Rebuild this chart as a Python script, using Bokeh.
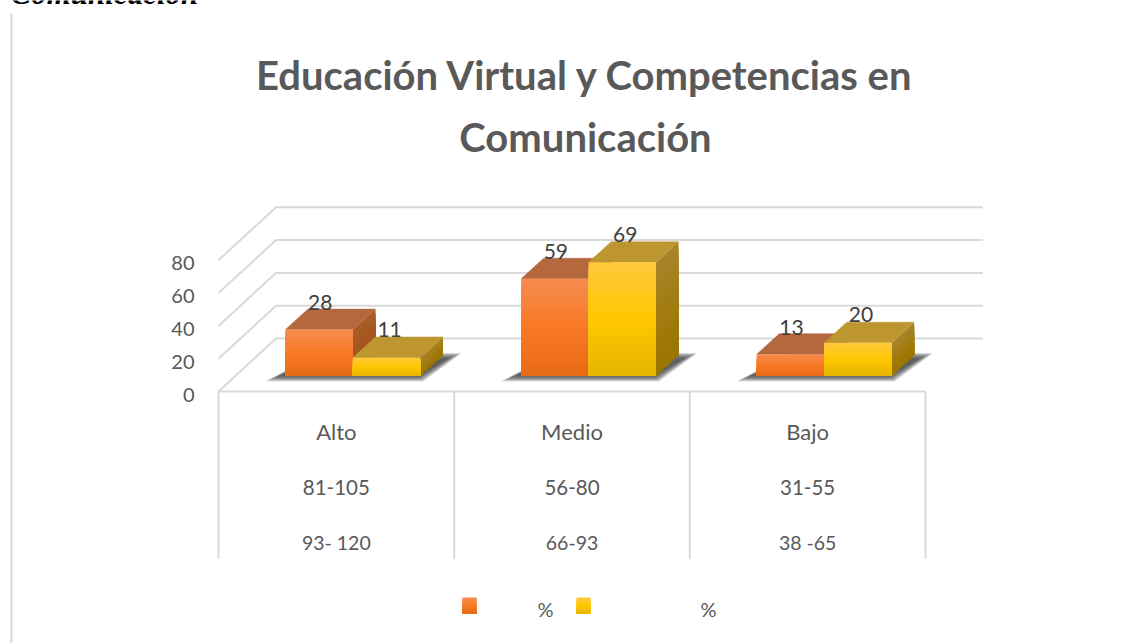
from bokeh.plotting import figure
from bokeh.models import Range1d, LinearAxis, FixedTicker
from bokeh.embed import file_html
from bokeh.resources import INLINE
from bokeh.core.properties import value

categories = ["Alto", "Medio", "Bajo"]
row2 = ["81-105", "56-80", "31-55"]
row3 = ["93- 120", "66-93", "38 -65"]
series_a = [28, 59, 13]
series_b = [11, 69, 20]
y_ticks = [0, 20, 40, 60, 80]
title_lines = ["Educación Virtual y Competencias en", "Comunicación"]
clipped_heading = "Comunicación"

W, H = 1142, 643
PX_CAT = 235.67      # pixels per category
PX_VAL = 1.64        # pixels per value unit
X0, Y0 = 218.0, 391.0  # pixel of category 0 / value 0 on the front edge


def ux(px):
    return (px - X0) / PX_CAT


def uy(py):
    return (Y0 - py) / PX_VAL


def dx(px):
    return px / PX_CAT


def dy(px):
    return px / PX_VAL


def mix(c1, c2, t):
    a = [int(c1[i:i + 2], 16) for i in (1, 3, 5)]
    b = [int(c2[i:i + 2], 16) for i in (1, 3, 5)]
    return "#%02x%02x%02x" % tuple(round(a[i] + (b[i] - a[i]) * t) for i in range(3))


def ramp(stops, t):
    if t < 0.5:
        return mix(stops[0], stops[1], t * 2)
    return mix(stops[1], stops[2], (t - 0.5) * 2)


p = figure(width=W, height=H, output_backend="svg", toolbar_location=None,
           x_range=Range1d(ux(0), ux(W)), y_range=Range1d(uy(H), uy(0)),
           min_border=0, outline_line_color=None, background_fill_color="white",
           border_fill_color="white", x_axis_location=None, y_axis_location=None,
           margin=(0, 0, 0, 0))
p.xgrid.visible = False
p.ygrid.visible = False

GRID = "#d9d9d9"
TXT = "#595959"
FONT = value("Lato")

# page rule at the left
p.segment([ux(11)], [uy(13)], [ux(11)], [uy(H)], line_color=GRID, line_width=2)

# cut heading at the very top
p.text([ux(10)], [uy(10)], text=[clipped_heading], text_font=value("Liberation Serif"),
       text_font_style="bold italic", text_font_size="31px", text_color="#000000",
       text_baseline="bottom", text_align="left")

# chart title
p.text([ux(585)] * 2, [uy(74), uy(136)], text=title_lines, text_font=FONT,
       text_font_style="bold", text_font_size="40px", text_color=TXT,
       text_baseline="middle", text_align="center")

# walls
DEPTH_X, DEPTH_Y = dx(57.5), dy(53)
x_front_end = len(categories)
for v in y_ticks:
    p.line([0, DEPTH_X, x_front_end + DEPTH_X], [v, v + DEPTH_Y, v + DEPTH_Y],
           line_color=GRID, line_width=2)
p.segment([0], [0], [x_front_end], [0], line_color=GRID, line_width=2)
table_bottom = uy(558)
p.segment(list(range(len(categories) + 1)), [0] * 4,
          list(range(len(categories) + 1)), [table_bottom] * 4,
          line_color=GRID, line_width=2)

# y axis, on a range nudged so the labels sit just under their grid lines
LABEL_NUDGE = dy(3)
p.extra_y_ranges["labels"] = Range1d(uy(H) + LABEL_NUDGE, uy(0) + LABEL_NUDGE)
ax = LinearAxis(fixed_location=ux(200), y_range_name="labels",
                ticker=FixedTicker(ticks=y_ticks),
                axis_line_color=None, major_tick_line_color=None,
                minor_tick_line_color=None, major_label_text_font="Lato",
                major_label_text_font_size="20px", major_label_text_color=TXT,
                major_label_standoff=0)
p.add_layout(ax, "left")

# category table
centers = [i + 0.5 for i in range(len(categories))]
for labels, py, size in ((categories, 431, "22px"), (row2, 487, "20.5px"), (row3, 542, "19.5px")):
    p.text(centers, [uy(py)] * 3, text=labels, text_font=FONT, text_font_size=size,
           text_color=TXT, text_align="center", text_baseline="middle")

# bars
BAR_W = dx(67.4)
BAR_DX, BAR_DY = dx(22.5), dy(20.5)
BASE = dy(16)

ORANGE = dict(front=["#f58b50", "#f97a26", "#e76a17"], top="#b5673d",
              side=["#aa5e28", "#a5561e", "#9a4f18"])
YELLOW = dict(front=["#ffc83f", "#ffc800", "#e6b400"], top="#be9630",
              side=["#a9852b", "#a27c10", "#9a7500"])
N = 24


def shadow(x0):
    xr = x0 + 2 * BAR_W
    for k in range(9):
        ins = k * 1.7
        xs = [x0 - dx(20 - ins), xr + dx(3 - ins * .4),
              xr + BAR_DX + dx(19 - ins), x0 + BAR_DX + dx(10)]
        ys = [BASE - dy(6 - ins * .42), BASE - dy(6 - ins * .42),
              BASE + BAR_DY + dy(2 - ins * .4), BASE + BAR_DY + dy(2 - ins * .4)]
        p.patch(xs, ys, fill_color="#3a3a3a", fill_alpha=0.17, line_color=None)


def bar3d(x0, val, style):
    x1 = x0 + BAR_W
    ytop = BASE + val
    # painted from the tallest band down, so that no seam shows between the bands
    xs, ys, cs = [], [], []
    for i in range(N, 0, -1):
        b = BASE + val * i / N
        xs.append([x1, x1 + BAR_DX, x1 + BAR_DX, x1])
        ys.append([BASE, BASE + BAR_DY, b + BAR_DY, b])
        cs.append(ramp(style["side"], 1 - (i - .5) / N))
    p.patches(xs, ys, fill_color=cs, line_color=None)
    # top
    p.patch([x0, x1, x1 + BAR_DX, x0 + BAR_DX], [ytop, ytop, ytop + BAR_DY, ytop + BAR_DY],
            fill_color=style["top"], line_color=style["top"], line_width=0.5)
    # front
    tops = [BASE + val * i / N for i in range(N, 0, -1)]
    cs = [ramp(style["front"], 1 - (i - .5) / N) for i in range(N, 0, -1)]
    p.quad(left=[x0] * N, right=[x1] * N, bottom=[BASE] * N, top=tops, fill_color=cs,
           line_color=None)


for i in range(len(categories)):
    x0 = i + dx(285 - 218)
    shadow(x0)
    bar3d(x0, series_a[i], ORANGE)
    bar3d(x0 + BAR_W, series_b[i], YELLOW)

# data labels
for i in range(len(categories)):
    x0 = i + dx(285 - 218)
    p.text([x0 + BAR_W / 2 + dx(1), x0 + 1.5 * BAR_W + dx(3)],
           [BASE + series_a[i] + dy(27), BASE + series_b[i] + dy(28)],
           text=[str(series_a[i]), str(series_b[i])], text_font=FONT, text_font_size="21px",
           text_color="#404040", text_align="center", text_baseline="middle")

# legend
for sx, style in ((462, ORANGE), (576, YELLOW)):
    n = 10
    top_y, bot_y = uy(597), uy(613)
    tops = [bot_y + (top_y - bot_y) * i / n for i in range(n, 0, -1)]
    cs = [ramp(style["front"], 1 - (i - .5) / n) for i in range(n, 0, -1)]
    p.quad(left=[ux(sx)] * n, right=[ux(sx + 14)] * n, bottom=[bot_y] * n, top=tops,
           fill_color=cs, line_color=None)
p.text([ux(545), ux(708)], [uy(608)] * 2, text=["%", "%"], text_font=FONT,
       text_font_size="20px", text_color=TXT, text_align="center", text_baseline="middle")

open("out.html", "w").write(file_html(p, INLINE))
